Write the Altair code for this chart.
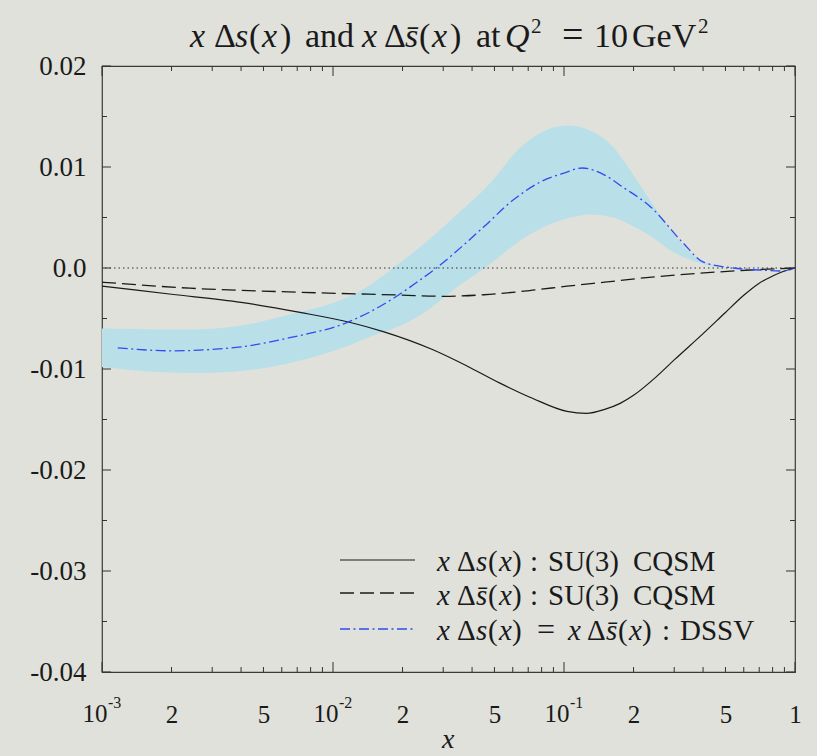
import altair as alt
import pandas as pd

# x*Delta s(x), SU(3) chiral quark soliton model
cqsm_s_x = [0.001, 0.002, 0.004, 0.0072, 0.0119, 0.0165, 0.0271, 0.038, 0.0528,
            0.073, 0.103, 0.125, 0.15, 0.175, 0.2, 0.25, 0.3, 0.4, 0.5, 0.6, 0.7,
            0.8, 0.9, 1.0]
cqsm_s_y = [-0.0018, -0.0026, -0.0034, -0.0044, -0.0054, -0.0063, -0.0081, -0.0097,
            -0.0114, -0.0129, -0.0142, -0.0144, -0.0140, -0.0134, -0.0126, -0.0108,
            -0.0091, -0.0065, -0.0044, -0.0027, -0.0015, -0.0008, -0.0003, 0.0]

# x*Delta sbar(x), SU(3) chiral quark soliton model
cqsm_sbar_x = [0.001, 0.0024, 0.0072, 0.0195, 0.03, 0.045, 0.073, 0.103, 0.15,
               0.24, 0.46, 0.64, 1.0]
cqsm_sbar_y = [-0.0014, -0.0020, -0.0024, -0.00268, -0.0028, -0.00265, -0.0022,
               -0.0018, -0.0014, -0.0009, -0.0004, -0.0002, 0.0]

# DSSV central value
dssv_x = [0.00117, 0.002, 0.004, 0.0065, 0.0115, 0.0177, 0.0231, 0.028, 0.0446,
          0.06, 0.0787, 0.1, 0.12, 0.15, 0.18, 0.236, 0.327, 0.4, 0.54, 0.7, 0.89, 1.0]
dssv_y = [-0.0079, -0.0082, -0.0078, -0.0069, -0.0054, -0.0032, -0.0014, 0.0, 0.0040,
          0.0067, 0.0085, 0.0094, 0.0099, 0.0092, 0.0080, 0.0061, 0.0025, 0.0006, 0.0,
          -0.0002, -0.0003, 0.0]

# DSSV uncertainty band
band_x = [0.001, 0.0024, 0.004, 0.0065, 0.011, 0.0149, 0.0182, 0.0245, 0.0344,
          0.0479, 0.0645, 0.081, 0.103, 0.13, 0.163, 0.193, 0.236, 0.296, 0.388,
          0.54, 0.75, 1.0]
band_lo = [-0.0098, -0.0104, -0.0102, -0.0094, -0.0079, -0.0067, -0.0060, -0.0045,
           -0.0019, 0.0004, 0.0027, 0.0040, 0.0049, 0.0053, 0.0050, 0.0043, 0.0032,
           0.0016, 0.0005, 0.0, 0.0, 0.0]
band_hi = [-0.0060, -0.0061, -0.0057, -0.0046, -0.0031, -0.0015, 0.0, 0.0023,
           0.0053, 0.0084, 0.0119, 0.0135, 0.0141, 0.0136, 0.0120, 0.0097, 0.0067,
           0.0035, 0.0008, 0.0, 0.0, 0.0]

# axis ticks and labels
x_label_values = [0.001, 0.002, 0.005, 0.01, 0.02, 0.05, 0.1, 0.2, 0.5, 1.0]
x_decades = [0.001, 0.01, 0.1]
x_decade_exp = ["-3", "-2", "-1"]
x_major = [0.001, 0.01, 0.1, 1.0]
x_minor = [0.002, 0.003, 0.004, 0.005, 0.006, 0.007, 0.008, 0.009,
           0.02, 0.03, 0.04, 0.05, 0.06, 0.07, 0.08, 0.09,
           0.2, 0.3, 0.4, 0.5, 0.6, 0.7, 0.8, 0.9]
y_major = [-0.04, -0.03, -0.02, -0.01, 0.0, 0.01, 0.02]
y_minor = [-0.035, -0.025, -0.015, -0.005, 0.005, 0.015]
zero_level = [0.0]

W, H = 693, 606
LEFT, TOP = 102, 66
FONT = "'Liberation Serif', 'Times New Roman', serif"
INK = "#1a1a1a"
BLUE = "#2f4cf2"
BAND = "#b9dfe8"

xscale = alt.Scale(type="log", domain=[0.001, 1.0], nice=False)
yscale = alt.Scale(domain=[-0.04, 0.02], nice=False, zero=False)

x_axis = alt.Axis(
    values=x_label_values,
    labelExpr=("indexof([0.001, 0.01, 0.1], datum.value) >= 0 ? '' : "
               "(datum.value >= 0.999 ? '1' : "
               "format(datum.value / pow(10, floor(log(datum.value) / LN10 + 1e-9)), '.0f'))"),
    ticks=False, domain=False, grid=False,
    labelFont=FONT, labelFontSize=25, labelColor=INK,
    labelBaseline="alphabetic", labelPadding=50, labelFlush=False,
    labelOverlap=False, title=None,
)
y_axis = alt.Axis(
    values=y_major,
    labelExpr=("datum.value == 0 ? '0.0' : "
               "(datum.value < 0 ? '-' : '') + format(abs(datum.value), '.2f')"),
    ticks=False, domain=False, grid=False,
    labelFont=FONT, labelFontSize=27, labelColor=INK,
    labelPadding=16, labelFlush=False, labelOverlap=False,
    title=None,
)

X = alt.X("x:Q", scale=xscale, axis=x_axis)
Y = alt.Y("y:Q", scale=yscale, axis=y_axis)

band_df = pd.DataFrame({"x": band_x, "lo": band_lo, "hi": band_hi})
band = alt.Chart(band_df).mark_area(color=BAND, opacity=1, interpolate="monotone").encode(
    x=X,
    y=alt.Y("hi:Q", scale=yscale, axis=y_axis),
    y2="lo:Q",
)

zero = alt.Chart(pd.DataFrame({"y": zero_level})).mark_rule(
    color="#333333", strokeWidth=1.2, strokeDash=[1.5, 3]
).encode(y=Y)

solid = alt.Chart(pd.DataFrame({"x": cqsm_s_x, "y": cqsm_s_y})).mark_line(
    color=INK, strokeWidth=1.2, interpolate="monotone"
).encode(x=X, y=Y)

dashed = alt.Chart(pd.DataFrame({"x": cqsm_sbar_x, "y": cqsm_sbar_y})).mark_line(
    color=INK, strokeWidth=1.3, strokeDash=[14, 6], interpolate="monotone"
).encode(x=X, y=Y)

dssv = alt.Chart(pd.DataFrame({"x": dssv_x, "y": dssv_y})).mark_line(
    color=BLUE, strokeWidth=1.3, strokeDash=[10, 3.5, 2, 3.5], interpolate="monotone"
).encode(x=X, y=Y)

# inward ticks on all four sides
tick_style = dict(color="#333333", strokeWidth=1)
xmaj = pd.DataFrame({"x": x_major})
xmin = pd.DataFrame({"x": x_minor})
ymaj = pd.DataFrame({"y": y_major})
ymin = pd.DataFrame({"y": y_minor})
ticks = [
    alt.Chart(xmaj).mark_rule(**tick_style).encode(x=X, y=alt.value(H), y2=alt.value(H - 10)),
    alt.Chart(xmin).mark_rule(**tick_style).encode(x=X, y=alt.value(H), y2=alt.value(H - 5)),
    alt.Chart(xmaj).mark_rule(**tick_style).encode(x=X, y=alt.value(0), y2=alt.value(10)),
    alt.Chart(xmin).mark_rule(**tick_style).encode(x=X, y=alt.value(0), y2=alt.value(5)),
    alt.Chart(ymaj).mark_rule(**tick_style).encode(y=Y, x=alt.value(0), x2=alt.value(9)),
    alt.Chart(ymin).mark_rule(**tick_style).encode(y=Y, x=alt.value(0), x2=alt.value(5)),
    alt.Chart(ymaj).mark_rule(**tick_style).encode(y=Y, x=alt.value(W), x2=alt.value(W - 9)),
    alt.Chart(ymin).mark_rule(**tick_style).encode(y=Y, x=alt.value(W), x2=alt.value(W - 5)),
]

# decade labels 10^n
dec_df = pd.DataFrame({"x": x_decades, "e": x_decade_exp})
dec_base = alt.Chart(dec_df).mark_text(
    font=FONT, fontSize=25, color=INK, align="center", baseline="alphabetic", dx=-7
).encode(x=X, y=alt.value(H + 50), text=alt.value("10"))
dec_exp = alt.Chart(dec_df).mark_text(
    font=FONT, fontSize=16, color=INK, align="left", baseline="alphabetic", dx=6
).encode(x=X, y=alt.value(H + 36), text="e:N")

one = pd.DataFrame({"t": [0]})


def seg(text, left, base, size, italic=False):
    """One run of text placed by page coordinates (left edge, baseline)."""
    return alt.Chart(one).mark_text(
        font=FONT, fontSize=size, color=INK, align="left", baseline="alphabetic",
        fontStyle="italic" if italic else "normal",
    ).encode(x=alt.value(left - LEFT), y=alt.value(base - TOP), text=alt.value(text))


# title:  x Δs(x) and x Δs̄(x) at Q² = 10 GeV²
TB, TS = 47, 34
title = [
    seg("x", 190, TB, TS, True), seg("Δ", 214, TB, TS), seg("s", 235, TB, TS, True),
    seg("(", 249, TB, TS), seg("x", 262, TB, TS, True), seg(")", 280, TB, TS),
    seg("and", 305, TB, TS),
    seg("x", 362, TB, TS, True), seg("Δ", 384, TB, TS), seg("s̄", 405, TB, TS, True),
    seg("(", 419, TB, TS), seg("x", 432, TB, TS, True), seg(")", 450, TB, TS),
    seg("at", 476, TB, TS), seg("Q", 505, TB, TS, True), seg("2", 531, TB - 14, 21),
    seg("=", 562, TB, TS + 4), seg("10", 594, TB, TS), seg("GeV", 632, TB, TS),
    seg("2", 698, TB - 14, 21),
]

# legend
LS = 29
leg_line_y = [560, 593, 629]
leg_base = [571, 605, 640]
legend = [
    alt.Chart(one).mark_rule(color=INK, strokeWidth=1.2).encode(
        x=alt.value(340 - LEFT), x2=alt.value(415 - LEFT), y=alt.value(leg_line_y[0] - TOP)),
    alt.Chart(one).mark_rule(color=INK, strokeWidth=1.3, strokeDash=[14, 6]).encode(
        x=alt.value(340 - LEFT), x2=alt.value(415 - LEFT), y=alt.value(leg_line_y[1] - TOP)),
    alt.Chart(one).mark_rule(color=BLUE, strokeWidth=1.3, strokeDash=[10, 3.5, 2, 3.5]).encode(
        x=alt.value(340 - LEFT), x2=alt.value(415 - LEFT), y=alt.value(leg_line_y[2] - TOP)),
]
for b, sbar in ((leg_base[0], "s"), (leg_base[1], "s̄")):
    legend += [
        seg("x", 437, b, LS, True), seg("Δ", 457, b, LS), seg(sbar, 476, b, LS, True),
        seg("(", 488, b, LS), seg("x", 499, b, LS, True), seg(")", 512, b, LS),
        seg(":", 530, b, LS), seg("SU(3)", 548, b, LS), seg("CQSM", 633, b, LS),
    ]
b = leg_base[2]
legend += [
    seg("x", 437, b, LS, True), seg("Δ", 457, b, LS), seg("s", 476, b, LS, True),
    seg("(", 488, b, LS), seg("x", 499, b, LS, True), seg(")", 512, b, LS),
    seg("=", 537, b, LS + 3),
    seg("x", 568, b, LS, True), seg("Δ", 587, b, LS), seg("s̄", 606, b, LS, True),
    seg("(", 618, b, LS), seg("x", 629, b, LS, True), seg(")", 642, b, LS),
    seg(":", 662, b, LS), seg("DSSV", 680, b, LS),
]

# x-axis title
xtitle = seg("x", 442, 748, 28, True)

chart = alt.layer(
    band, zero, solid, dashed, dssv, *ticks, dec_base, dec_exp, *title, *legend, xtitle
).properties(
    width=W, height=H,
    padding={"left": LEFT, "top": TOP, "right": 22, "bottom": 84},
    autosize=alt.AutoSizeParams(type="none"),
    background="#e0e1db",
).configure_view(
    stroke="#3a3a3a", strokeWidth=1.2, fill=None
)

chart.save("out.html", embed_options={"renderer": "svg", "actions": False})
